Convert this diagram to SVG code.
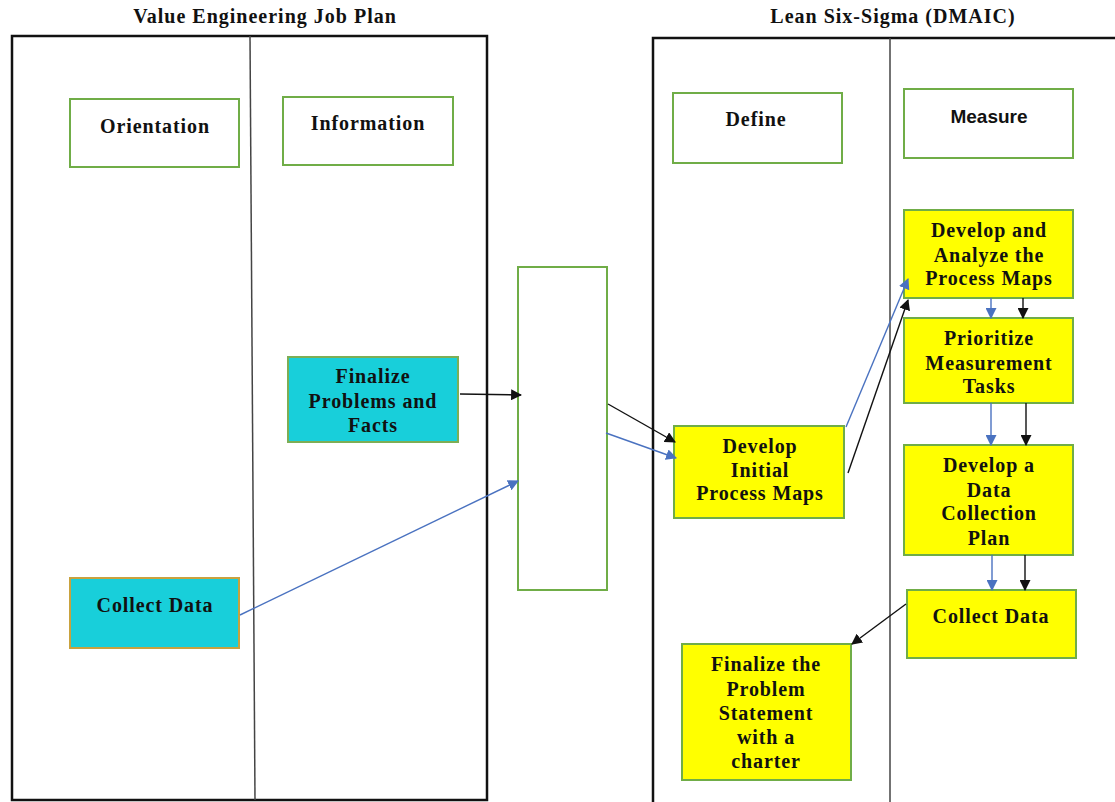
<svg xmlns="http://www.w3.org/2000/svg" width="1115" height="802" viewBox="0 0 1115 802">
  <style>
    .frame { fill: none; stroke: #111; stroke-width: 2.5; }
    .divider { stroke: #444; stroke-width: 1.5; }
    .phase { fill: #fff; stroke: #70ad47; stroke-width: 2; }
    .cyan { fill: #18cfda; stroke: #7dae55; stroke-width: 2; }
    .cyan2 { fill: #18cfda; stroke: #c9a23e; stroke-width: 2; }
    .yellow { fill: #ffff00; stroke: #70ad47; stroke-width: 2; }
    .t { font-family: "Liberation Serif", "Times New Roman", serif; font-weight: bold; font-size: 20px; fill: #111; text-anchor: middle; letter-spacing: 0.9px; }
    .ts { font-family: "Liberation Sans", Arial, sans-serif; font-weight: bold; font-size: 19px; fill: #111; text-anchor: middle; }
    .title { font-family: "Liberation Serif", "Times New Roman", serif; font-weight: bold; font-size: 20px; fill: #111; text-anchor: middle; letter-spacing: 1px; }
    .blk { stroke: #111; stroke-width: 1.4; fill: none; marker-end: url(#ab); }
    .blu { stroke: #4a72c0; stroke-width: 1.4; fill: none; marker-end: url(#au); }
  </style>
  <defs>
    <marker id="ab" viewBox="0 0 10 10" refX="9" refY="5" markerWidth="11" markerHeight="11" markerUnits="userSpaceOnUse" orient="auto">
      <path d="M0,0 L10,5 L0,10 z" fill="#111"/>
    </marker>
    <marker id="au" viewBox="0 0 10 10" refX="9" refY="5" markerWidth="11" markerHeight="11" markerUnits="userSpaceOnUse" orient="auto">
      <path d="M0,0 L10,5 L0,10 z" fill="#4a72c0"/>
    </marker>
  </defs>
  <rect width="1115" height="802" fill="#fff"/>

  <!-- swimlane frames -->
  <g id="lanes">
    <text class="title" x="265" y="23">Value Engineering Job Plan</text>
    <rect class="frame" x="12" y="36" width="475" height="764"/>
    <line class="divider" x1="250" y1="36" x2="255" y2="800"/>
    <text class="title" x="893" y="23">Lean Six-Sigma (DMAIC)</text>
    <path class="frame" d="M653,802 L653,38 L1115,38"/>
    <line class="divider" x1="890" y1="38" x2="890" y2="802"/>
  </g>

  <!-- phase headers -->
  <g id="orientation">
    <rect class="phase" x="70" y="99" width="169" height="68"/>
    <text class="t" x="155" y="133">Orientation</text>
  </g>
  <g id="information">
    <rect class="phase" x="283" y="97" width="170" height="68"/>
    <text class="t" x="368" y="130">Information</text>
  </g>
  <g id="define">
    <rect class="phase" x="673" y="93" width="169" height="70"/>
    <text class="t" x="756" y="126">Define</text>
  </g>
  <g id="measure">
    <rect class="phase" x="904" y="89" width="169" height="69"/>
    <text class="ts" x="989" y="123">Measure</text>
  </g>

  <!-- empty hand-off box -->
  <g id="handoff">
    <rect class="phase" x="518" y="267" width="89" height="323"/>
  </g>

  <!-- value engineering tasks -->
  <g id="finalize-problems">
    <rect class="cyan" x="288" y="357" width="170" height="85"/>
    <text class="t" x="373" y="383">Finalize</text>
    <text class="t" x="373" y="408">Problems and</text>
    <text class="t" x="373" y="432">Facts</text>
  </g>
  <g id="collect-data-ve">
    <rect class="cyan2" x="70" y="578" width="169" height="70"/>
    <text class="t" x="155" y="612">Collect Data</text>
  </g>

  <!-- DMAIC tasks -->
  <g id="develop-initial">
    <rect class="yellow" x="674" y="426" width="170" height="92"/>
    <text class="t" x="760" y="453">Develop</text>
    <text class="t" x="760" y="477">Initial</text>
    <text class="t" x="760" y="500">Process Maps</text>
  </g>
  <g id="develop-analyze">
    <rect class="yellow" x="904" y="210" width="169" height="88"/>
    <text class="t" x="989" y="237">Develop and</text>
    <text class="t" x="989" y="262">Analyze the</text>
    <text class="t" x="989" y="285">Process Maps</text>
  </g>
  <g id="prioritize">
    <rect class="yellow" x="904" y="318" width="169" height="85"/>
    <text class="t" x="989" y="345">Prioritize</text>
    <text class="t" x="989" y="370">Measurement</text>
    <text class="t" x="989" y="393">Tasks</text>
  </g>
  <g id="data-plan">
    <rect class="yellow" x="904" y="445" width="169" height="110"/>
    <text class="t" x="989" y="472">Develop a</text>
    <text class="t" x="989" y="497">Data</text>
    <text class="t" x="989" y="520">Collection</text>
    <text class="t" x="989" y="545">Plan</text>
  </g>
  <g id="collect-data-lss">
    <rect class="yellow" x="907" y="590" width="169" height="68"/>
    <text class="t" x="991" y="623">Collect Data</text>
  </g>
  <g id="problem-statement">
    <rect class="yellow" x="682" y="644" width="169" height="136"/>
    <text class="t" x="766" y="671">Finalize the</text>
    <text class="t" x="766" y="696">Problem</text>
    <text class="t" x="766" y="720">Statement</text>
    <text class="t" x="766" y="744">with a</text>
    <text class="t" x="766" y="768">charter</text>
  </g>

  <!-- connectors -->
  <g id="connectors">
    <line class="blk" x1="460" y1="394" x2="521" y2="395"/>
    <line class="blu" x1="240" y1="615" x2="518" y2="481"/>
    <line class="blk" x1="608" y1="404" x2="675" y2="442"/>
    <line class="blu" x1="606" y1="433" x2="676" y2="458"/>
    <line class="blu" x1="846" y1="427" x2="908" y2="279"/>
    <line class="blk" x1="848" y1="473" x2="908" y2="300"/>
    <line class="blu" x1="991" y1="298" x2="991" y2="318"/>
    <line class="blk" x1="1023" y1="298" x2="1023" y2="318"/>
    <line class="blu" x1="991" y1="403" x2="991" y2="445"/>
    <line class="blk" x1="1026" y1="403" x2="1026" y2="445"/>
    <line class="blu" x1="992" y1="555" x2="992" y2="590"/>
    <line class="blk" x1="1025" y1="555" x2="1025" y2="590"/>
    <line class="blk" x1="906" y1="604" x2="852" y2="644"/>
  </g>
</svg>
